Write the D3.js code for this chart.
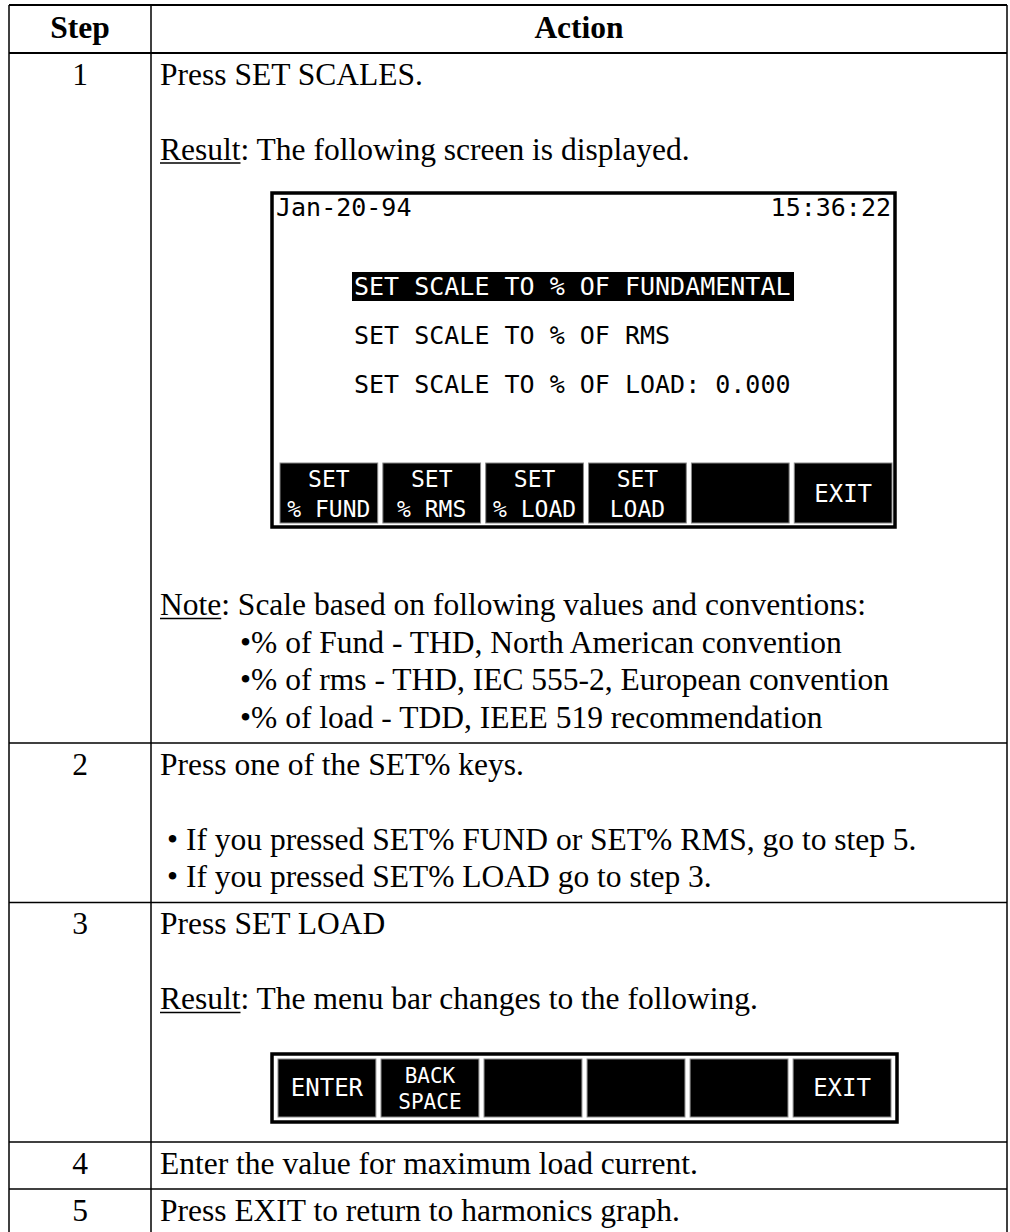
<!DOCTYPE html>
<html><head><meta charset="utf-8">
<script src="https://cdn.jsdelivr.net/npm/d3@7"></script>
<style>html,body{margin:0;padding:0;background:#fff;} svg{display:block;}</style>
</head><body><div id="chart"></div>
<script>
// ---------- data ----------
const headers = ["Step", "Action"];
const steps = ["1", "2", "3", "4", "5"];
const step1Intro = "Press SET SCALES.";
const step1Result = ["Result", ": The following screen is displayed."];
const screenDate = "Jan-20-94";
const screenTime = "15:36:22";
const screenMenu = ["SET SCALE TO % OF FUNDAMENTAL", "SET SCALE TO % OF RMS", "SET SCALE TO % OF LOAD: 0.000"];
const screenKeys = [["SET", "% FUND"], ["SET", "% RMS"], ["SET", "% LOAD"], ["SET", "LOAD"], [], ["EXIT"]];
const step1Note = ["Note", ": Scale based on following values and conventions:"];
const noteItems = ["•% of Fund - THD, North American convention",
                   "•% of rms - THD, IEC 555-2, European convention",
                   "•% of load - TDD, IEEE 519 recommendation"];
const step2Intro = "Press one of the SET% keys.";
const step2Items = ["• If you pressed SET% FUND or SET% RMS, go to step 5.",
                    "• If you pressed SET% LOAD go to step 3."];
const step3Intro = "Press SET LOAD";
const step3Result = ["Result", ": The menu bar changes to the following."];
const menuKeys = [["ENTER"], ["BACK", "SPACE"], [], [], [], ["EXIT"]];
const step4Text = "Enter the value for maximum load current.";
const step5Text = "Press EXIT to return to harmonics graph.";

(function () {
// ---------- layout ----------
const W = 1010, H = 1232;
const colX = [9, 151, 1007];
const textX = 160, noteIndent = 240, bulletIndent = 167;
const FS = 31.5, LP = 37.5, PADTOP = 31.5, PADBOT = 15.5;
const serif = "'Liberation Serif','Times New Roman',Times,serif";
const mono = "'DejaVu Sans Mono',monospace";

const svg = d3.select("#chart").append("svg").attr("width", W).attr("height", H);
const gLines = svg.append("g");
const gContent = svg.append("g");

function addText(x, y, str, opts = {}) {
  return gContent.append("text").attr("x", x).attr("y", y)
    .attr("font-family", opts.family || serif)
    .attr("font-size", opts.size || FS)
    .attr("font-weight", opts.weight || "normal")
    .attr("text-anchor", opts.anchor || "start")
    .attr("fill", opts.fill || "#000")
    .text(str);
}
function addUnderlined(x, y, parts) {
  const t = addText(x, y, "");
  const u = t.append("tspan").text(parts[0]);
  t.append("tspan").text(parts[1]);
  const w = u.node().getComputedTextLength();
  gContent.append("line").attr("x1", x).attr("x2", x + w).attr("y1", y + 3.5).attr("y2", y + 3.5)
    .attr("stroke", "#000").attr("stroke-width", 1.6);
}
function drawKeys(g, keys, x0, x1, y0, h, fs, pos) {
  const xb = d3.scaleBand().domain(d3.range(keys.length)).range([x0, x1]).paddingInner(0.05);
  const kg = g.selectAll("g.key").data(keys).join("g").attr("class", "key")
    .attr("transform", (d, i) => `translate(${xb(i)},${y0})`);
  kg.append("rect").attr("width", xb.bandwidth()).attr("height", h)
    .attr("fill", "#000").attr("stroke", "#888").attr("stroke-width", 1);
  kg.each(function (d) {
    const sel = d3.select(this);
    const two = d.length > 1;
    const ys = two ? pos.double : [pos.single];
    d.forEach((s, j) => {
      sel.append("text").attr("x", xb.bandwidth() / 2).attr("y", ys[j])
        .attr("text-anchor", "middle").attr("font-family", mono)
        .attr("font-size", two ? pos.fs2 : fs)
        .attr("fill", "#fff").text(s);
    });
  });
}

function drawScreen(x, y) {
  const w = 623, h = 334;
  const g = gContent.append("g");
  g.append("rect").attr("x", x).attr("y", y).attr("width", w).attr("height", h)
    .attr("fill", "#fff").attr("stroke", "#000").attr("stroke-width", 3.5);
  g.append("text").attr("x", x + 4).attr("y", y + 23).attr("font-family", mono).attr("font-size", 25).text(screenDate);
  g.append("text").attr("x", x + w - 4).attr("y", y + 23).attr("text-anchor", "end")
    .attr("font-family", mono).attr("font-size", 25).text(screenTime);
  const my = d3.scaleLinear().domain([0, 1]).range([y + 102, y + 151]);
  screenMenu.forEach((s, i) => {
    if (i === 0) {
      g.append("rect").attr("x", x + 80).attr("y", y + 79).attr("width", 442).attr("height", 29).attr("fill", "#000");
    }
    g.append("text").attr("x", x + 82).attr("y", my(i)).attr("font-family", mono).attr("font-size", 25)
      .attr("fill", i === 0 ? "#fff" : "#000").text(s);
  });
  drawKeys(g, screenKeys, x + 8, x + w - 3, y + 270, 60, 24, { single: 39, double: [24, 54], fs2: 23 });
  return h;
}
function drawMenuBar(x, y) {
  const w = 625, h = 68;
  const g = gContent.append("g");
  g.append("rect").attr("x", x).attr("y", y).attr("width", w).attr("height", h)
    .attr("fill", "#fff").attr("stroke", "#000").attr("stroke-width", 3.5);
  drawKeys(g, menuKeys, x + 6, x + w - 6, y + 5, h - 10, 24, { single: 37, double: [24, 50], fs2: 21 });
  return h;
}

// ---------- header ----------
const rowEdges = [5, 53];
addText((colX[0] + colX[1]) / 2, 38, headers[0], { weight: "bold", anchor: "middle" });
addText((colX[1] + colX[2]) / 2, 38, headers[1], { weight: "bold", anchor: "middle" });

// ---------- rows ----------
let rowTop = 53;
function stepLabel(i, y) { addText((colX[0] + colX[1]) / 2, y, steps[i], { anchor: "middle" }); }

// Row 1
let y = rowTop + PADTOP;
stepLabel(0, y);
addText(textX, y, step1Intro);
y += 2 * LP;
addUnderlined(textX, y, step1Result);
let sy = y + 33.5;
sy += drawScreen(272, sy);
y = sy + 88;
addUnderlined(textX, y, step1Note);
noteItems.forEach((s, i) => addText(noteIndent, y + (i + 1) * LP, s));
y += noteItems.length * LP;
rowTop = y + PADBOT; rowEdges.push(rowTop);

// Row 2
y = rowTop + PADTOP;
stepLabel(1, y);
addText(textX, y, step2Intro);
step2Items.forEach((s, i) => addText(bulletIndent, y + (i + 2) * LP, s));
y += (step2Items.length + 1) * LP;
rowTop = y + PADBOT; rowEdges.push(rowTop);

// Row 3
y = rowTop + PADTOP;
stepLabel(2, y);
addText(textX, y, step3Intro);
y += 2 * LP;
addUnderlined(textX, y, step3Result);
let by = y + 45;
by += drawMenuBar(272, by);
rowTop = by + 20; rowEdges.push(rowTop);

// Row 4
y = rowTop + PADTOP;
stepLabel(3, y);
addText(textX, y, step4Text);
rowTop = y + PADBOT; rowEdges.push(rowTop);

// Row 5
y = rowTop + PADTOP;
stepLabel(4, y);
addText(textX, y, step5Text);
rowTop = y + PADBOT; rowEdges.push(rowTop);

// ---------- grid ----------
gLines.selectAll("line.h").data(rowEdges).join("line").attr("class", "h")
  .attr("x1", colX[0]).attr("x2", colX[2]).attr("y1", d => d).attr("y2", d => d)
  .attr("stroke", "#000").attr("stroke-width", (d, i) => (i < 2 ? 2 : 1.5));
gLines.selectAll("line.v").data(colX).join("line").attr("class", "v")
  .attr("x1", d => d).attr("x2", d => d).attr("y1", rowEdges[0]).attr("y2", rowEdges[rowEdges.length - 1])
  .attr("stroke", "#000").attr("stroke-width", 1.5);
})();
</script>
</body></html>
